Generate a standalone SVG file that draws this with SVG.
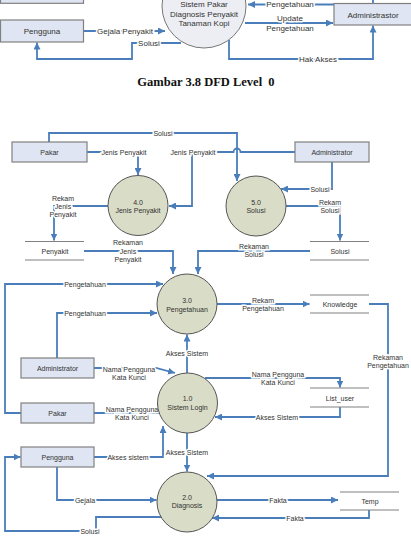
<svg xmlns="http://www.w3.org/2000/svg" width="411" height="537" viewBox="0 0 411 537">
<defs>
<marker id="ah" viewBox="0 0 10 10" refX="10" refY="5" markerWidth="7" markerHeight="7" orient="auto" markerUnits="userSpaceOnUse"><path d="M0,0 L10,5 L0,10 z" fill="#4a7ebb"/></marker>
</defs>
<style>
.box{fill:#dfe5f2;stroke:#808080;stroke-width:1.2}
.proc{fill:#d9dcc6;stroke:#555;stroke-width:1}
.proc0{fill:#eceef4;stroke:#777;stroke-width:1}
.store{stroke:#808080;stroke-width:1.2}
.c{fill:none;stroke:#4a7ebb;stroke-width:1.8}
.ar{marker-end:url(#ah)}
text{font-family:"Liberation Sans",Arial,sans-serif;fill:#333;text-anchor:middle}
.t0{font-size:8px}
.t1{font-size:7px}
.lb{paint-order:stroke;stroke:#fff;stroke-width:3px}
.cap{font-family:"Liberation Serif","Times New Roman",serif;font-weight:bold;font-size:12.5px;fill:#111;white-space:pre}
</style>
<rect width="411" height="537" fill="#fff"/>

<!-- Level 0 -->
<g id="connectors0">
<path class="c" d="M373,-5 V3.5"/>
<path class="c ar" d="M334,4.5 H248"/>
<path class="c ar" d="M245,23 H333"/>
<path class="c ar" d="M83.5,31 H165"/>
<path class="c ar" d="M181,43 H132 V59 H37 V42.5"/>
<path class="c ar" d="M229,40 V59 H373 V25.5"/>
<text class="t0 lb" x="290" y="7">Pengetahuan</text>
<text class="t0 lb" x="290" y="21">Update</text>
<text class="t0 lb" x="290" y="31">Pengetahuan</text>
<text class="t0 lb" x="125" y="34">Gejala Penyakit</text>
<text class="t0 lb" x="149" y="46">Solusi</text>
<text class="t0 lb" x="318" y="62">Hak Akses</text>
</g>
<g id="pakar0"><rect class="box" x="0.5" y="-20" width="83" height="23.3"/></g>
<g id="pengguna0"><rect class="box" x="0.5" y="20" width="83" height="22"/><text class="t0" x="42" y="34">Pengguna</text></g>
<g id="sistem0"><circle class="proc0" cx="204" cy="6" r="42"/>
<text class="t0" x="204" y="7">Sistem Pakar</text>
<text class="t0" x="204" y="17">Diagnosis Penyakit</text>
<text class="t0" x="204" y="26">Tanaman Kopi</text></g>
<g id="admin0"><rect class="box" x="334" y="3.5" width="78" height="21.5"/><text class="t0" x="373" y="17.5">Administrastor</text></g>

<text class="cap" x="206" y="85.5">Gambar 3.8 DFD Level  0</text>

<!-- Level 1 connectors -->
<g id="connectors1">
<!-- Pakar Solusi to 5.0 -->
<path class="c ar" d="M49,142 V133 H237 V181"/>
<!-- Pakar Jenis Penyakit to 4.0 -->
<path class="c ar" d="M87,152 H138 V175"/>
<!-- Admin Jenis Penyakit to 4.0 with hop -->
<path class="c ar" d="M295,152 H240.5 A3.5,3.5 0 0 0 233.5,152 H192 V206 H169"/>
<!-- Admin Solusi to 5.0 -->
<path class="c ar" d="M332,162 V189 H281"/>
<!-- Rekam Solusi -->
<path class="c ar" d="M286,206 H340 V240.5"/>
<!-- Rekam Jenis Penyakit -->
<path class="c ar" d="M108,206 H54 V240.5"/>
<!-- Rekaman Jenis Penyakit -->
<path class="c ar" d="M84,251 H173 V274"/>
<!-- Rekaman Solusi -->
<path class="c ar" d="M310,251 H198 V274"/>
<!-- Pengetahuan outer: Pakar -> 3.0 -->
<path class="c ar" d="M21,413 H5 V284 H163"/>
<!-- Pengetahuan inner: Admin -> 3.0 -->
<path class="c ar" d="M57,358 V313 H157"/>
<!-- Rekam Pengetahuan -->
<path class="c ar" d="M217,304 H309.5"/>
<!-- Rekaman Pengetahuan -->
<path class="c ar" d="M369,304 H388 V476 H207"/>
<!-- Akses Sistem 1.0 -> 3.0 -->
<path class="c ar" d="M187,373 V334.5"/>
<!-- Admin Nama Pengguna -> 1.0 -->
<path class="c ar" d="M94,368 H156 L175,373"/>
<!-- Pakar Nama Pengguna -> 1.0 -->
<path class="c ar" d="M94,413 H160 V399"/>
<!-- 1.0 -> List_user -->
<path class="c ar" d="M205,378 H340 V387.5"/>
<!-- List_user -> 1.0 -->
<path class="c ar" d="M340,407 V417 H215"/>
<!-- Akses Sistem 1.0 -> 2.0 -->
<path class="c ar" d="M187,433 V471.5"/>
<!-- Pengguna Akses sistem -> 1.0 -->
<path class="c ar" d="M94,457 H163 V426"/>
<!-- Gejala -->
<path class="c ar" d="M57,467 V500 H156.5"/>
<!-- Solusi 2.0 -> Pengguna -->
<path class="c ar" d="M161,517 H96 V531 H5 V457 H20.5"/>
<!-- Fakta 2.0 -> Temp -->
<path class="c ar" d="M217,500 H338"/>
<!-- Fakta Temp -> 2.0 -->
<path class="c ar" d="M369,510 V518 H212"/>

<text class="t1 lb" x="163" y="135.5">Solusi</text>
<text class="t1 lb" x="124" y="154.5">Jenis Penyakit</text>
<text class="t1 lb" x="193" y="154.5">Jenis Penyakit</text>
<text class="t1 lb" x="320" y="191.5">Solusi</text>
<text class="t1 lb" x="330" y="204.5">Rekam</text>
<text class="t1 lb" x="330" y="212.5">Solusi</text>
<text class="t1 lb" x="63" y="200.5">Rekam</text>
<text class="t1 lb" x="63" y="208.5">Jenis</text>
<text class="t1 lb" x="63" y="216.5">Penyakit</text>
<text class="t1 lb" x="128" y="244.5">Rekaman</text>
<text class="t1 lb" x="128" y="253.5">Jenis</text>
<text class="t1 lb" x="128" y="262">Penyakit</text>
<text class="t1 lb" x="254" y="248.5">Rekaman</text>
<text class="t1 lb" x="254" y="257">Solusi</text>
<text class="t1 lb" x="85" y="286.5">Pengetahuan</text>
<text class="t1 lb" x="85" y="315.5">Pengetahuan</text>
<text class="t1 lb" x="263" y="302.5">Rekam</text>
<text class="t1 lb" x="263" y="311">Pengetahuan</text>
<text class="t1 lb" x="388" y="359.5">Rekaman</text>
<text class="t1 lb" x="388" y="368">Pengetahuan</text>
<text class="t1 lb" x="187" y="355.5">Akses Sistem</text>
<text class="t1 lb" x="129" y="371.5">Nama Pengguna</text>
<text class="t1 lb" x="129" y="379.5">Kata Kunci</text>
<text class="t1 lb" x="278" y="377">Nama Pengguna</text>
<text class="t1 lb" x="278" y="385">Kata Kunci</text>
<text class="t1 lb" x="132" y="411.5">Nama Pengguna</text>
<text class="t1 lb" x="132" y="419.5">Kata Kunci</text>
<text class="t1 lb" x="277" y="419.5">Akses Sistem</text>
<text class="t1 lb" x="187" y="454.5">Akses Sistem</text>
<text class="t1 lb" x="128" y="459.5">Akses sistem</text>
<text class="t1 lb" x="85" y="502.5">Gejala</text>
<text class="t1 lb" x="90" y="533.5">Solusi</text>
<text class="t1 lb" x="278" y="502.5">Fakta</text>
<text class="t1 lb" x="295" y="520.5">Fakta</text>
</g>

<!-- Level 1 nodes -->
<g id="pakar1"><rect class="box" x="12" y="142" width="75" height="20"/><text class="t1" x="49.5" y="154.5">Pakar</text></g>
<g id="admin1"><rect class="box" x="295" y="142" width="74" height="20"/><text class="t1" x="332" y="154.5">Administrator</text></g>
<g id="p4"><circle class="proc" cx="138" cy="205.5" r="30"/><text class="t1" x="138" y="204.5">4.0</text><text class="t1" x="138" y="212.5">Jenis Penyakit</text></g>
<g id="p5"><circle class="proc" cx="256" cy="206" r="30"/><text class="t1" x="256" y="204.5">5.0</text><text class="t1" x="256" y="212.5">Solusi</text></g>
<g id="dsPenyakit"><path class="store" d="M25,241.5 H84 M25,260 H84"/><text class="t1" x="55" y="253.5">Penyakit</text></g>
<g id="dsSolusi"><path class="store" d="M310,241.5 H369 M310,260 H369"/><text class="t1" x="340" y="253.5">Solusi</text></g>
<g id="p3"><circle class="proc" cx="187" cy="304" r="30"/><text class="t1" x="187" y="302.5">3.0</text><text class="t1" x="187" y="311.5">Pengetahuan</text></g>
<g id="dsKnowledge"><path class="store" d="M310,295 H369 M310,313 H369"/><text class="t1" x="340" y="306.5">Knowledge</text></g>
<g id="admin2"><rect class="box" x="21" y="358" width="73" height="20"/><text class="t1" x="57.5" y="370.5">Administrator</text></g>
<g id="p1"><circle class="proc" cx="187.5" cy="403" r="30"/><text class="t1" x="187.5" y="400.5">1.0</text><text class="t1" x="187.5" y="409.5">Sistem Login</text></g>
<g id="dsListUser"><path class="store" d="M310,388 H369 M310,407 H369"/><text class="t1" x="340" y="400.5">List_user</text></g>
<g id="pakar2"><rect class="box" x="21" y="403" width="73" height="20"/><text class="t1" x="57.5" y="415.5">Pakar</text></g>
<g id="pengguna1"><rect class="box" x="21" y="447" width="73" height="20"/><text class="t1" x="57.5" y="459.5">Pengguna</text></g>
<g id="p2"><circle class="proc" cx="187" cy="502" r="30"/><text class="t1" x="187" y="499.5">2.0</text><text class="t1" x="187" y="507.5">Diagnosis</text></g>
<g id="dsTemp"><path class="store" d="M340,492 H399 M340,510 H399"/><text class="t1" x="370" y="503.5">Temp</text></g>
</svg>
